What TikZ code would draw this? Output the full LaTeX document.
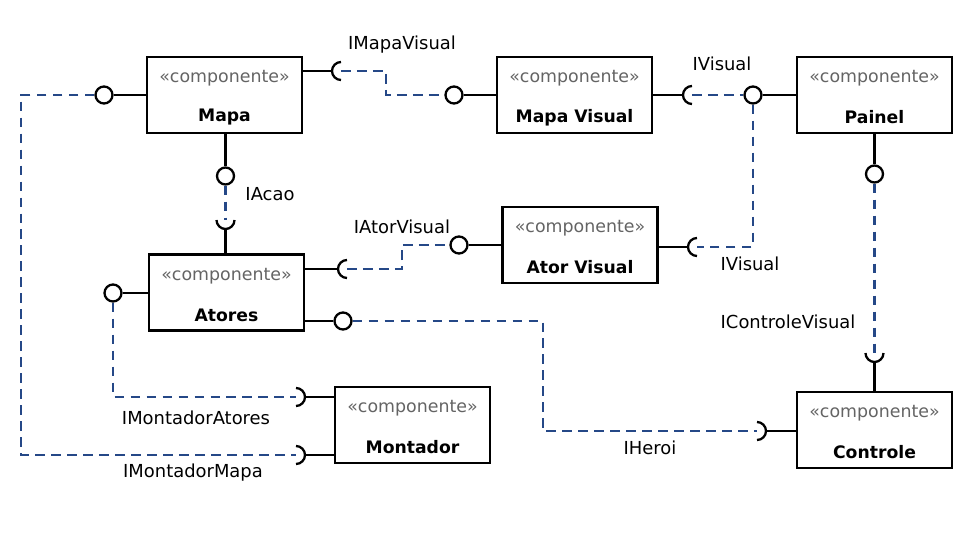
\documentclass[tikz,border=0pt]{standalone}
\usepackage{fontspec}
\setmainfont{DejaVu Sans}
\definecolor{linkblue}{RGB}{37,72,135}
\definecolor{stgray}{RGB}{100,100,100}
\begin{document}
\begin{tikzpicture}[x=0.02cm,y=-0.02cm,
  comp/.style={draw,line width=1.3pt,minimum width=3.1cm,minimum height=1.52cm,inner sep=0pt},
  stereo/.style={text=stgray,font=\fontsize{9.9}{11}\selectfont,inner sep=0pt},
  cname/.style={font=\fontsize{9.8}{11}\selectfont\bfseries,inner sep=0pt},
  lbl/.style={font=\fontsize{10.2}{12}\selectfont,inner sep=0pt},
  ball/.style={draw,circle,line width=1.3pt,minimum size=0.34cm,inner sep=0pt},
  stem/.style={line width=1.3pt},
  link/.style={draw=linkblue,line width=1.2pt,dash pattern=on 5.5pt off 3.6pt},
]
\useasboundingbox (0,0) rectangle (971,545);

% components
\node[comp] (mapa) at (224.5,95) {};
\node[comp] (mapav) at (574.5,95) {};
\node[comp] (painel) at (874.5,95) {};
\node[comp] (atorv) at (580,245) {};
\node[comp] (atores) at (226.5,292.5) {};
\node[comp] (montador) at (412.5,425) {};
\node[comp] (controle) at (874.5,430) {};

\foreach \n/\t in {mapa/Mapa, mapav/Mapa Visual, painel/Painel, atorv/Ator Visual, atores/Atores, montador/Montador, controle/Controle}{
  \node[stereo] (\n-s) at ([yshift=-0.45cm]\n.north) {«componente»};
  \node[cname] (\n-n) at ([yshift=-1.23cm]\n.north) {\t};
}

% provided interfaces (balls)
\node[ball] (bml) at (104,95) {};
\node[ball] (bmvl) at (454,95) {};
\node[ball] (bpl) at (753,95) {};
\node[ball] (bpb) at (874.5,174) {};
\node[ball] (bmb) at (225.5,176) {};
\node[ball] (bavl) at (459,245) {};
\node[ball] (bal) at (113,293) {};
\node[ball] (bar) at (343,321) {};

\draw[stem] (bml) -- (mapa.west |- bml);
\draw[stem] (bmvl) -- (mapav.west |- bmvl);
\draw[stem] (bpl) -- (painel.west |- bpl);
\draw[stem] (bpb) -- (painel.south -| bpb);
\draw[stem] (bmb) -- (mapa.south -| bmb);
\draw[stem] (bavl) -- (atorv.west |- bavl);
\draw[stem] (bal) -- (atores.west |- bal);
\draw[stem] (bar) -- (atores.east |- bar);

% required interfaces (sockets)
\coordinate (smr) at (341,71);
\coordinate (smvr) at (692,95);
\coordinate (savr) at (697,247);
\coordinate (sart) at (347,269);
\coordinate (satop) at (225.5,220);
\coordinate (smta) at (296,397);
\coordinate (smtm) at (296,455);
\coordinate (scl) at (757,431);
\coordinate (sct) at (874.5,353);

\foreach \s in {smr,smvr,savr,sart}{
  \draw[stem] ([yshift=0.18cm]\s) arc (90:270:0.18cm);
}
\foreach \s in {smta,smtm,scl}{
  \draw[stem] ([yshift=0.18cm]\s) arc (90:-90:0.18cm);
}
\foreach \s in {satop,sct}{
  \draw[stem] ([xshift=-0.18cm]\s) arc (180:360:0.18cm);
}

\draw[stem] (mapa.east |- smr) -- ([xshift=-0.18cm]smr);
\draw[stem] (mapav.east |- smvr) -- ([xshift=-0.18cm]smvr);
\draw[stem] (atorv.east |- savr) -- ([xshift=-0.18cm]savr);
\draw[stem] (atores.east |- sart) -- ([xshift=-0.18cm]sart);
\draw[stem] (atores.north -| satop) -- ([yshift=-0.18cm]satop);
\draw[stem] (montador.west |- smta) -- ([xshift=0.18cm]smta);
\draw[stem] (montador.west |- smtm) -- ([xshift=0.18cm]smtm);
\draw[stem] (controle.west |- scl) -- ([xshift=0.18cm]scl);
\draw[stem] (controle.north -| sct) -- ([yshift=-0.18cm]sct);

% dependency links
\coordinate (c1) at (21,95);
\coordinate (c2) at (21,455);
\coordinate (c3) at (386,71);
\coordinate (c4) at (386,95);
\coordinate (c5) at (402,269);
\coordinate (c6) at (402,245);
\coordinate (c7) at (543,321);

\draw[link] (bml.west) -- (c1) -- (c2) -- (smtm);
\draw[link] (smr) -- (c3) -- (c4) -- (bmvl.west);
\draw[link] (smvr) -- (bpl.west);
\draw[link] (bpl.south) |- (savr);
\draw[link] (bpb.south) -- (sct);
\draw[link] (bmb.south) -- (satop);
\draw[link] (sart) -- (c5) -- (c6) -- (bavl.west);
\draw[link] (bal.south) |- (smta);
\draw[link] (bar.east) -- (c7) |- (scl);

% labels
\node[lbl] (l1) at (402,45) {IMapaVisual};
\node[lbl] (l2) at (722,64) {IVisual};
\node[lbl] (l3) at (750,264) {IVisual};
\node[lbl] (l4) at (270,194) {IAcao};
\node[lbl] (l5) at (402,227) {IAtorVisual};
\node[lbl] (l6) at (196,418) {IMontadorAtores};
\node[lbl] (l7) at (193,473) {IMontadorMapa};
\node[lbl] (l8) at (650,448) {IHeroi};
\node[lbl] (l9) at (788,322) {IControleVisual};
\end{tikzpicture}
\end{document}
